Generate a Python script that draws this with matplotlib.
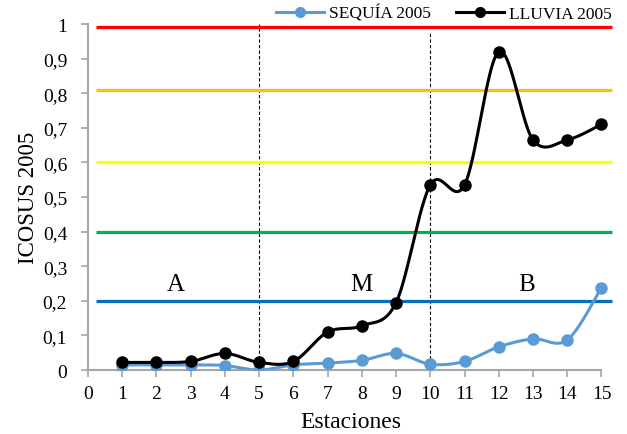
import numpy as np
import matplotlib
matplotlib.use("Agg")
import matplotlib.pyplot as plt
from matplotlib.lines import Line2D

plt.rcParams['font.family'] = ['Liberation Serif', 'DejaVu Serif']

estaciones = list(range(1, 16))
sequia_2005 = [0.015, 0.015, 0.015, 0.013, 0.0, 0.015, 0.02, 0.028, 0.048, 0.017,
               0.025, 0.067, 0.09, 0.087, 0.238]
lluvia_2005 = [0.022, 0.022, 0.025, 0.048, 0.022, 0.025, 0.11, 0.128, 0.195, 0.535,
               0.535, 0.92, 0.665, 0.665, 0.71]
umbrales = [0.99, 0.81, 0.60, 0.40, 0.20]
umbral_colores = ['#FF0000', '#FFC000', '#FFFF00', '#00B050', '#0070C0']
divisiones = [5, 10]
zonas = ['A', 'M', 'B']
zona_x = [2.55, 8.0, 12.8]
x_ticks = list(range(0, 16))
y_ticks = [0, 0.1, 0.2, 0.3, 0.4, 0.5, 0.6, 0.7, 0.8, 0.9, 1.0]
y_ticklabels = ['0', '0,1', '0,2', '0,3', '0,4', '0,5', '0,6', '0,7', '0,8', '0,9', '1']


def smooth(x, y, n=30):
    x = np.asarray(x, float)
    y = np.asarray(y, float)
    xs, ys = [], []
    N = len(x)
    for i in range(N - 1):
        p0 = np.array([x[max(i - 1, 0)], y[max(i - 1, 0)]])
        p1 = np.array([x[i], y[i]])
        p2 = np.array([x[i + 1], y[i + 1]])
        p3 = np.array([x[min(i + 2, N - 1)], y[min(i + 2, N - 1)]])
        c1 = p1 + (p2 - p0) / 6.0
        c2 = p2 - (p3 - p1) / 6.0
        t = np.linspace(0, 1, n)[:, None]
        pts = ((1 - t) ** 3) * p1 + 3 * ((1 - t) ** 2) * t * c1 + 3 * (1 - t) * t ** 2 * c2 + t ** 3 * p2
        if i > 0:
            pts = pts[1:]
        xs.extend(pts[:, 0])
        ys.extend(pts[:, 1])
    return np.array(xs), np.array(ys)


fig = plt.figure(figsize=(6.27, 4.35), dpi=100)
ax = fig.add_axes([0.1404, 0.147, 0.838, 0.7955])
ax.set_xlim(0, 15.35)
ax.set_ylim(0, 1.0)

for val, col in zip(umbrales, umbral_colores):
    ax.plot([0.23, 15.3], [val, val], color=col, lw=2.3, zorder=2, solid_capstyle='butt')

ax.vlines(divisiones[0], 0, 1.0, colors='black', linestyles=(0, (3, 2)), lw=0.8, zorder=1)
ax.vlines(divisiones[1], 0, 0.975, colors='black', linestyles=(0, (3, 2)), lw=0.8, zorder=1)

blue = '#5B9BD5'
sx, sy = smooth(estaciones, sequia_2005)
ax.plot(sx, sy, color=blue, lw=2.2, zorder=3)
ax.plot(estaciones, sequia_2005, 'o', color=blue, ms=8, zorder=3)
lx, ly = smooth(estaciones, lluvia_2005)
ax.plot(lx, ly, color='black', lw=2.2, zorder=4)
ax.plot(estaciones, lluvia_2005, 'o', color='black', ms=8, zorder=4)

for z, zx in zip(zonas, zona_x):
    ax.text(zx, 0.25, z, fontsize=18, ha='center', va='center')

ax.set_xticks(x_ticks)
ax.set_xticklabels([str(v) for v in x_ticks])
ax.set_yticks(y_ticks)
ax.set_yticklabels(y_ticklabels)
ax.tick_params(axis='both', colors='#A6A6A6', labelcolor='black', labelsize=14,
               length=5, width=1.2, direction='out')
ax.tick_params(axis='x', pad=6)
ax.tick_params(axis='y', pad=10)
for s in ['top', 'right']:
    ax.spines[s].set_visible(False)
for s in ['left', 'bottom']:
    ax.spines[s].set_color('#A6A6A6')
    ax.spines[s].set_linewidth(1.5)
ax.spines['bottom'].set_bounds(0, 15)

ax.set_xlabel('Estaciones', fontsize=17, labelpad=6)
ax.set_ylabel('ICOSUS 2005', fontsize=16.5, labelpad=3)

h1 = Line2D([], [], color=blue, lw=2.2, marker='o', ms=7)
h2 = Line2D([], [], color='black', lw=2.2, marker='o', ms=7)
fig.legend([h1, h2], ['SEQUÍA 2005', 'LLUVIA 2005'], loc='center',
           bbox_to_anchor=(0.708, 0.967), ncol=2, frameon=False, fontsize=12.5,
           handlelength=2.8, handletextpad=0.3, columnspacing=1.4)

fig.savefig('out.png', dpi=100)
